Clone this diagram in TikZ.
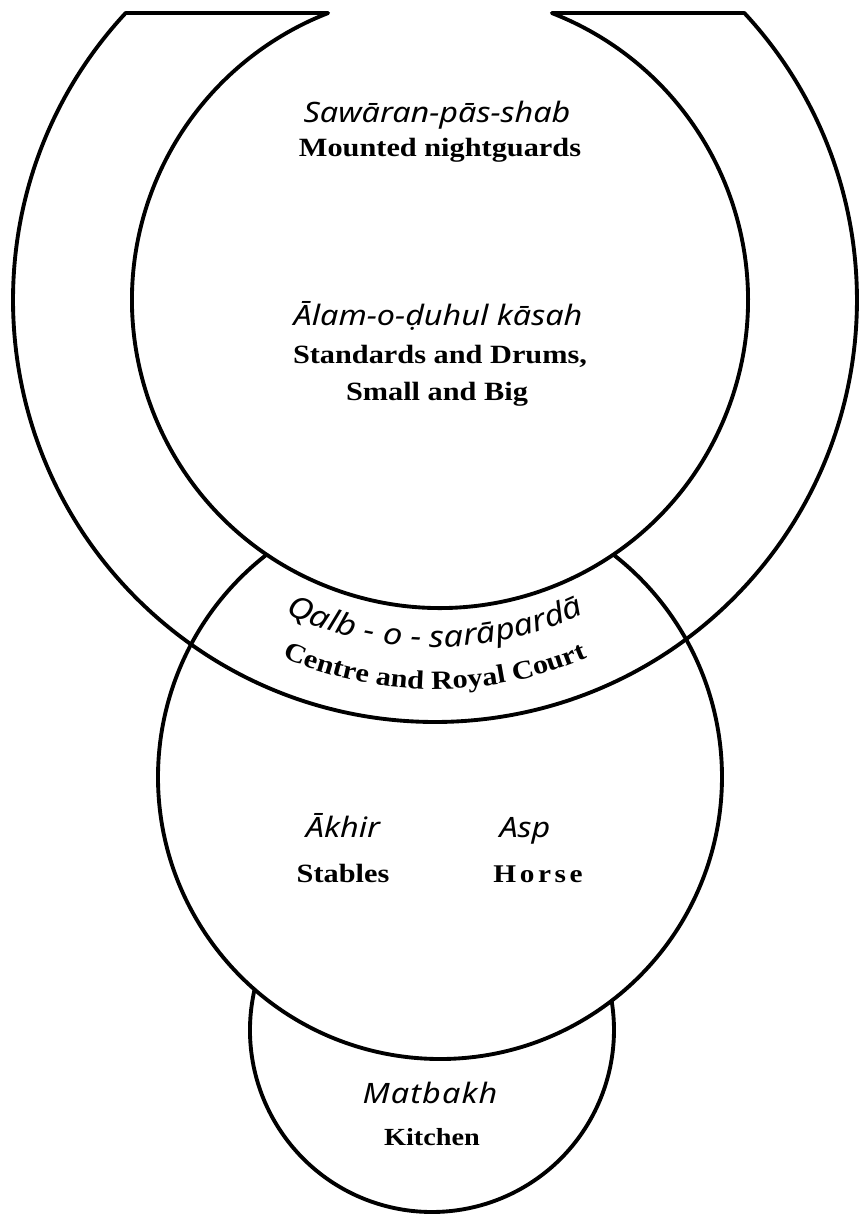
\documentclass[tikz,border=0pt]{standalone}
\usepackage{fontspec}
\newfontfamily\translit{Noto Sans}[FakeStretch=1.15]
\newfontfamily\gloss{Liberation Serif}[FakeStretch=1.15]
\usetikzlibrary{decorations.text}

\begin{document}
\begin{tikzpicture}[
  x=0.2mm, y=0.2mm,
  wall/.style={line width=2.2pt, line join=round, line cap=round},
  translit/.style={font=\translit\itshape\fontsize{16}{19}\selectfont, inner sep=0pt, anchor=base},
  gloss/.style={font=\gloss\bfseries\fontsize{15}{18}\selectfont, inner sep=0pt, anchor=base},
  spaced/.style={font=\gloss\bfseries\fontsize{14.5}{18}\selectfont\addfontfeature{LetterSpace=14}},
  arcword/.style={decorate, decoration={text along path, text align=center, text={#1}}}
]
\useasboundingbox (0,0) rectangle (862,-1219);
% centres of the rings
\coordinate (ring) at (435,-300);
\coordinate (camp) at (440,-300);
\coordinate (court) at (440,-777);
\coordinate (kitchen) at (432,-1030);

% horseshoe, cut off flat at the top
\draw[wall] ([shift={(137.15:422)}]ring) arc[start angle=137.15, end angle=402.85, radius=422]
  -- ([shift={(68.7:308)}]camp) arc[start angle=68.7, end angle=-248.7, radius=308] -- cycle;
% centre circle and kitchen
\draw[wall] ([shift={(127.95:282)}]court) arc[start angle=127.95, end angle=412.05, radius=282];
\draw[wall] ([shift={(167.13:182)}]kitchen) arc[start angle=167.13, end angle=369.25, radius=182];

% labels
\node[translit] (sawaran) at (437,-122) {Sawāran-pās-shab};
\node[gloss] (guards) at (440,-156) {Mounted nightguards};
\node[translit] (alam) at (438,-325) {Ālam-o-ḍuhul kāsah};
\node[gloss] (drums) at (440,-363) {Standards and Drums,};
\node[gloss] (sizes) at (437,-400) {Small and Big};

\path[arcword={|\translit\itshape\fontsize{17}{20}\selectfont|Qalb - o - sarāpardā}]
  ([shift={(222:347)}]ring) arc[start angle=222, end angle=318, radius=347];
\path[arcword={|\gloss\bfseries\fontsize{15}{18}\selectfont|Centre and Royal Court}]
  ([shift={(222:389)}]ring) arc[start angle=222, end angle=318, radius=389];

\node[translit] (akhir) at (343,-837) {Ākhir};
\node[gloss] (stables) at (343,-882) {Stables};
\node[translit] (asp) at (525,-837) {Asp};
\node[gloss, spaced] (horse) at (538,-882) {Horse};

\node[translit] (matbakh) at (430,-1103) {\addfontfeature{LetterSpace=4}Matbakh};
\node[gloss, font=\gloss\bfseries\fontsize{14}{17}\selectfont] (kitch) at (432,-1145) {Kitchen};
\end{tikzpicture}
\end{document}
